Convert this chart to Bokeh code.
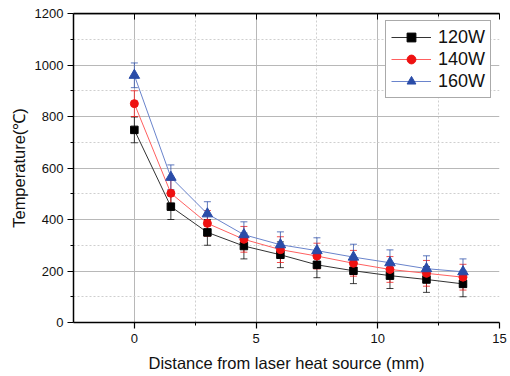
from bokeh.plotting import figure
from bokeh.models import (ColumnDataSource, Whisker, TeeHead, LinearAxis, Legend, LegendItem,
                          FixedTicker, Range1d, Span)
from bokeh.embed import file_html
from bokeh.resources import INLINE

distance = [0, 1.5, 3, 4.5, 6, 7.5, 9, 10.5, 12, 13.5]
temp_120 = [748, 450, 350, 297, 263, 224, 201, 182, 167, 150]
temp_140 = [850, 502, 385, 323, 283, 258, 230, 206, 191, 176]
temp_160 = [960, 564, 422, 341, 302, 279, 254, 232, 209, 197]
err_120 = [50] * 10
err_140 = [50] * 10
err_160 = [48, 48, 47, 50, 50, 50, 50, 50, 50, 50]
labels = ["120W", "140W", "160W"]
x_major = [0, 5, 10, 15]
x_minor = [2.5, 7.5, 12.5]
y_major = [0, 200, 400, 600, 800, 1000, 1200]
y_minor = [100, 300, 500, 700, 900, 1100]

FONT = "Liberation Sans"

p = figure(width=510, height=376, output_backend="svg", toolbar_location=None,
           x_range=Range1d(-2.5, 15), y_range=Range1d(0, 1200),
           min_border_left=73, min_border_right=11, min_border_top=13, min_border_bottom=54)
p.outline_line_color = None

top = LinearAxis(ticker=FixedTicker(ticks=x_major, minor_ticks=x_minor),
                 axis_line_color="black", axis_line_width=1.5,
                 major_tick_in=6, major_tick_out=0, minor_tick_in=3, minor_tick_out=0,
                 major_tick_line_color="black", minor_tick_line_color="black",
                 major_label_text_font_size="0px")
p.add_layout(top, "above")
p.add_layout(Span(location=y_major[-1], dimension="width", line_color="black", line_width=1.5))

bottom_axis = p.below[0]
left_axis = p.left[0]
for ax in (bottom_axis, left_axis):
    ax.axis_line_color = "black"
    ax.axis_line_width = 1.5
    ax.major_tick_line_color = "black"
    ax.minor_tick_line_color = "black"
    ax.major_tick_line_width = 1.2
    ax.major_tick_out = 6
    ax.major_tick_in = 0
    ax.minor_tick_out = 3
    ax.minor_tick_in = 0
    ax.major_label_text_font = FONT
    ax.major_label_text_font_size = "13px"
    ax.major_label_text_color = "#111111"
    ax.axis_label_text_font = FONT
    ax.axis_label_text_font_size = "16.5px"
    ax.axis_label_text_font_style = "normal"
    ax.axis_label_text_color = "#111111"

bottom_axis.ticker = FixedTicker(ticks=x_major, minor_ticks=x_minor)
left_axis.ticker = FixedTicker(ticks=y_major, minor_ticks=y_minor)
bottom_axis.axis_label = "Distance from laser heat source (mm)"
left_axis.axis_label = "Temperature(℃)"
bottom_axis.axis_label_standoff = 8
bottom_axis.major_label_standoff = 5
left_axis.axis_label_standoff = 4
left_axis.major_label_standoff = 4

for g in (p.xgrid[0], p.ygrid[0]):
    g.grid_line_color = "#b8b8b8"
    g.grid_line_width = 1
    g.minor_grid_line_color = "#cfcfcf"
    g.minor_grid_line_dash = "2 2"
p.xgrid[0].ticker = bottom_axis.ticker
p.ygrid[0].ticker = left_axis.ticker

series = [
    (temp_120, err_120, "#333333", "black", "square", 7.5),
    (temp_140, err_140, "#ff6060", "#ee1111", "circle", 8),
    (temp_160, err_160, "#6a84cc", "#2a4ca8", "triangle", 10.5),
]

items = []
for (vals, errs, lcol, mcol, marker, size), lab in zip(series, labels):
    src = ColumnDataSource(dict(x=distance, y=vals,
                                upper=[v + e for v, e in zip(vals, errs)],
                                lower=[v - e for v, e in zip(vals, errs)]))
    w = Whisker(source=src, base="x", upper="upper", lower="lower",
                line_color=mcol, line_width=1, line_alpha=0.75,
                upper_head=TeeHead(size=7, line_color=mcol, line_alpha=0.75),
                lower_head=TeeHead(size=7, line_color=mcol, line_alpha=0.75))
    p.add_layout(w)
    ln = p.line("x", "y", source=src, line_color=lcol, line_width=1)
    sc = p.scatter("x", "y", source=src, marker=marker, size=size,
                   fill_color=mcol, line_color=mcol)
    items.append(LegendItem(label=lab, renderers=[ln, sc]))

legend = Legend(items=items, location=(312, 224), margin=0,
                label_text_font=FONT, label_text_font_size="18px",
                label_text_color="#111111",
                glyph_width=40, glyph_height=22, label_height=22, label_standoff=7,
                spacing=0, padding=5,
                border_line_color="#555555", border_line_width=1,
                background_fill_alpha=1)
p.add_layout(legend)

open("out.html", "w").write(file_html(p, INLINE))
